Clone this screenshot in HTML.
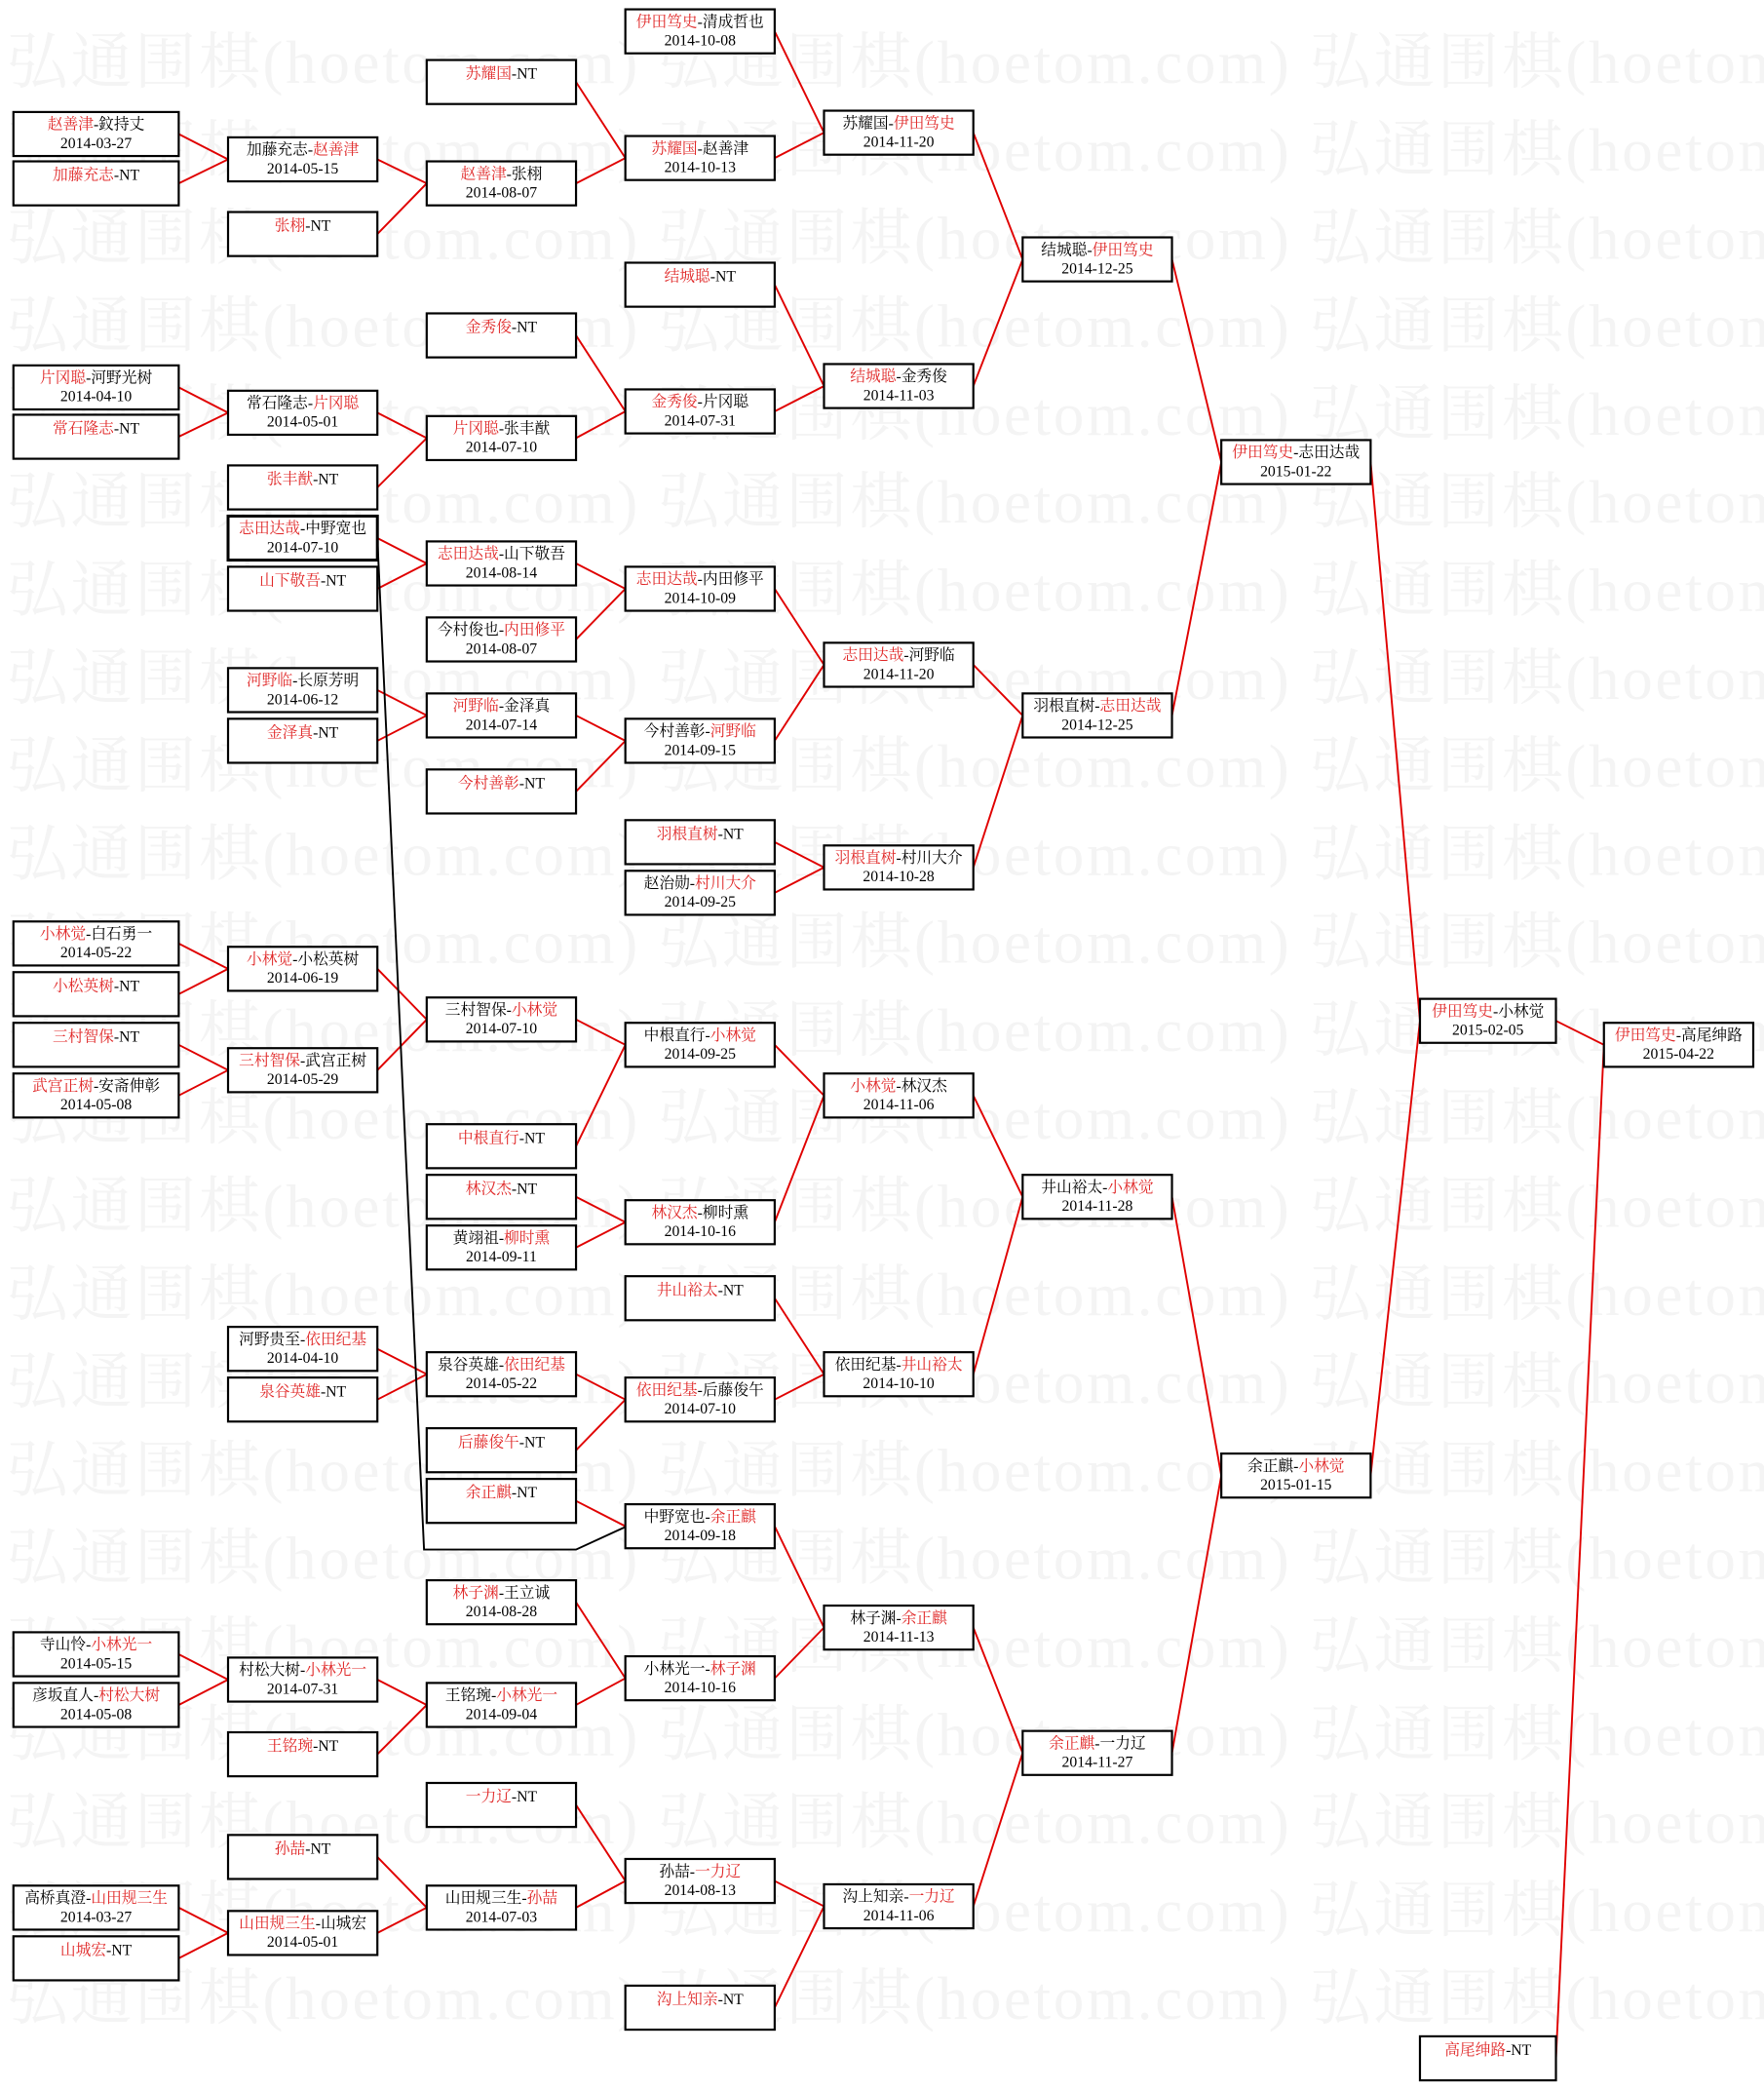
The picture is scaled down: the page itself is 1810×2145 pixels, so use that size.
<!DOCTYPE html>
<html><head><meta charset="utf-8"><style>
html,body{margin:0;padding:0;background:#fff}
svg{display:block}
text{font-family:"Liberation Serif","Noto Serif CJK SC",serif;font-size:11.5px;text-anchor:middle;fill:#000}
.r{fill:#e02828}
.wm{font-size:46px;fill:#f4f4f4;text-anchor:start;letter-spacing:2px}
rect{fill:#fff;stroke:#000;stroke-width:1.6}
.l path,.l line{stroke:#e00000;stroke-width:1.4;fill:none}
</style></head><body>
<svg width="1810" height="2145" viewBox="0 0 1323 1568" xmlns="http://www.w3.org/2000/svg">
<g>
<text class="wm" x="5" y="62">弘通围棋(hoetom.com) 弘通围棋(hoetom.com) 弘通围棋(hoetom.com)</text>
<text class="wm" x="5" y="128">弘通围棋(hoetom.com) 弘通围棋(hoetom.com) 弘通围棋(hoetom.com)</text>
<text class="wm" x="5" y="194">弘通围棋(hoetom.com) 弘通围棋(hoetom.com) 弘通围棋(hoetom.com)</text>
<text class="wm" x="5" y="260">弘通围棋(hoetom.com) 弘通围棋(hoetom.com) 弘通围棋(hoetom.com)</text>
<text class="wm" x="5" y="326">弘通围棋(hoetom.com) 弘通围棋(hoetom.com) 弘通围棋(hoetom.com)</text>
<text class="wm" x="5" y="392">弘通围棋(hoetom.com) 弘通围棋(hoetom.com) 弘通围棋(hoetom.com)</text>
<text class="wm" x="5" y="458">弘通围棋(hoetom.com) 弘通围棋(hoetom.com) 弘通围棋(hoetom.com)</text>
<text class="wm" x="5" y="524">弘通围棋(hoetom.com) 弘通围棋(hoetom.com) 弘通围棋(hoetom.com)</text>
<text class="wm" x="5" y="590">弘通围棋(hoetom.com) 弘通围棋(hoetom.com) 弘通围棋(hoetom.com)</text>
<text class="wm" x="5" y="656">弘通围棋(hoetom.com) 弘通围棋(hoetom.com) 弘通围棋(hoetom.com)</text>
<text class="wm" x="5" y="722">弘通围棋(hoetom.com) 弘通围棋(hoetom.com) 弘通围棋(hoetom.com)</text>
<text class="wm" x="5" y="788">弘通围棋(hoetom.com) 弘通围棋(hoetom.com) 弘通围棋(hoetom.com)</text>
<text class="wm" x="5" y="854">弘通围棋(hoetom.com) 弘通围棋(hoetom.com) 弘通围棋(hoetom.com)</text>
<text class="wm" x="5" y="920">弘通围棋(hoetom.com) 弘通围棋(hoetom.com) 弘通围棋(hoetom.com)</text>
<text class="wm" x="5" y="986">弘通围棋(hoetom.com) 弘通围棋(hoetom.com) 弘通围棋(hoetom.com)</text>
<text class="wm" x="5" y="1052">弘通围棋(hoetom.com) 弘通围棋(hoetom.com) 弘通围棋(hoetom.com)</text>
<text class="wm" x="5" y="1118">弘通围棋(hoetom.com) 弘通围棋(hoetom.com) 弘通围棋(hoetom.com)</text>
<text class="wm" x="5" y="1184">弘通围棋(hoetom.com) 弘通围棋(hoetom.com) 弘通围棋(hoetom.com)</text>
<text class="wm" x="5" y="1250">弘通围棋(hoetom.com) 弘通围棋(hoetom.com) 弘通围棋(hoetom.com)</text>
<text class="wm" x="5" y="1316">弘通围棋(hoetom.com) 弘通围棋(hoetom.com) 弘通围棋(hoetom.com)</text>
<text class="wm" x="5" y="1382">弘通围棋(hoetom.com) 弘通围棋(hoetom.com) 弘通围棋(hoetom.com)</text>
<text class="wm" x="5" y="1448">弘通围棋(hoetom.com) 弘通围棋(hoetom.com) 弘通围棋(hoetom.com)</text>
<text class="wm" x="5" y="1514">弘通围棋(hoetom.com) 弘通围棋(hoetom.com) 弘通围棋(hoetom.com)</text>
</g>
<g class="l">
<path d="M134 100.5L171 119.5L134 137.5"/>
<path d="M134 290.5L171 309.5L134 327.5"/>
<path d="M134 707.5L171 726.5L134 745.5"/>
<path d="M134 783.5L171 802.5L134 821.5"/>
<path d="M134 1240.5L171 1259.5L134 1278.5"/>
<path d="M134 1430.5L171 1449.5L134 1468.5"/>
<path d="M283 119.5L320 137.5L283 175.5"/>
<path d="M283 309.5L320 328.5L283 365.5"/>
<path d="M283 403.5L320 422.5L283 441.5"/>
<path d="M283 517.5L320 536.5L283 555.5"/>
<path d="M283 726.5L320 764.5L283 802.5"/>
<path d="M283 1011.5L320 1030.5L283 1049.5"/>
<path d="M283 1259.5L320 1278.5L283 1315.5"/>
<path d="M283 1392.5L320 1430.5L283 1449.5"/>
<path d="M432 61.5L469 118.5L432 137.5"/>
<path d="M432 251.5L469 308.5L432 328.5"/>
<path d="M432 422.5L469 441.5L432 479.5"/>
<path d="M432 536.5L469 555.5L432 593.5"/>
<path d="M432 764.5L469 783.5L432 859.5"/>
<path d="M432 897.5L469 916.5L432 935.5"/>
<path d="M432 1030.5L469 1049.5L432 1087.5"/>
<path d="M432 1125.5L469 1144.5"/>
<path d="M432 1201.5L469 1258.5L432 1278.5"/>
<path d="M432 1353.5L469 1410.5L432 1430.5"/>
<path d="M581 23.5L618 99.5L581 118.5"/>
<path d="M581 213.5L618 289.5L581 308.5"/>
<path d="M581 441.5L618 498.5L581 555.5"/>
<path d="M581 631.5L618 650.5L581 669.5"/>
<path d="M581 783.5L618 821.5L581 916.5"/>
<path d="M581 973.5L618 1030.5L581 1049.5"/>
<path d="M581 1144.5L618 1220.5L581 1258.5"/>
<path d="M581 1410.5L618 1429.5L581 1505.5"/>
<path d="M730 99.5L767 194.5L730 289.5"/>
<path d="M730 498.5L767 536.5L730 650.5"/>
<path d="M730 821.5L767 897.5L730 1030.5"/>
<path d="M730 1220.5L767 1314.5L730 1429.5"/>
<path d="M879 194.5L916 346.5L879 536.5"/>
<path d="M879 897.5L916 1106.5L879 1314.5"/>
<path d="M1028 346.5L1065 765.5L1028 1106.5"/>
<path d="M1167 765.5L1203 783.5L1167 1543.5"/>
</g>
<path d="M283 404L318 1162L432 1162L469 1145" stroke="#000" stroke-width="1.4" fill="none"/>

<g transform="translate(10,84)"><rect width="124" height="33"/><text x="62" y="13"><tspan class="r">赵善津</tspan>-鈫持丈</text><text x="62" y="27">2014-03-27</text></g>
<g transform="translate(10,121)"><rect width="124" height="33"/><text x="62" y="14"><tspan class="r">加藤充志</tspan>-NT</text></g>
<g transform="translate(10,274)"><rect width="124" height="33"/><text x="62" y="13"><tspan class="r">片冈聪</tspan>-河野光树</text><text x="62" y="27">2014-04-10</text></g>
<g transform="translate(10,311)"><rect width="124" height="33"/><text x="62" y="14"><tspan class="r">常石隆志</tspan>-NT</text></g>
<g transform="translate(10,691)"><rect width="124" height="33"/><text x="62" y="13"><tspan class="r">小林觉</tspan>-白石勇一</text><text x="62" y="27">2014-05-22</text></g>
<g transform="translate(10,729)"><rect width="124" height="33"/><text x="62" y="14"><tspan class="r">小松英树</tspan>-NT</text></g>
<g transform="translate(10,767)"><rect width="124" height="33"/><text x="62" y="14"><tspan class="r">三村智保</tspan>-NT</text></g>
<g transform="translate(10,805)"><rect width="124" height="33"/><text x="62" y="13"><tspan class="r">武宫正树</tspan>-安斋伸彰</text><text x="62" y="27">2014-05-08</text></g>
<g transform="translate(10,1224)"><rect width="124" height="33"/><text x="62" y="13">寺山怜-<tspan class="r">小林光一</tspan></text><text x="62" y="27">2014-05-15</text></g>
<g transform="translate(10,1262)"><rect width="124" height="33"/><text x="62" y="13">彦坂直人-<tspan class="r">村松大树</tspan></text><text x="62" y="27">2014-05-08</text></g>
<g transform="translate(10,1414)"><rect width="124" height="33"/><text x="62" y="13">高桥真澄-<tspan class="r">山田规三生</tspan></text><text x="62" y="27">2014-03-27</text></g>
<g transform="translate(10,1452)"><rect width="124" height="33"/><text x="62" y="14"><tspan class="r">山城宏</tspan>-NT</text></g>

<g transform="translate(171,103)"><rect width="112" height="33"/><text x="56" y="13">加藤充志-<tspan class="r">赵善津</tspan></text><text x="56" y="27">2014-05-15</text></g>
<g transform="translate(171,159)"><rect width="112" height="33"/><text x="56" y="14"><tspan class="r">张栩</tspan>-NT</text></g>
<g transform="translate(171,293)"><rect width="112" height="33"/><text x="56" y="13">常石隆志-<tspan class="r">片冈聪</tspan></text><text x="56" y="27">2014-05-01</text></g>
<g transform="translate(171,349)"><rect width="112" height="33"/><text x="56" y="14"><tspan class="r">张丰猷</tspan>-NT</text></g>
<g transform="translate(171,387)"><rect width="112" height="33" style="stroke-width:2.2"/><text x="56" y="13"><tspan class="r">志田达哉</tspan>-中野宽也</text><text x="56" y="27">2014-07-10</text></g>
<g transform="translate(171,425)"><rect width="112" height="33"/><text x="56" y="14"><tspan class="r">山下敬吾</tspan>-NT</text></g>
<g transform="translate(171,501)"><rect width="112" height="33"/><text x="56" y="13"><tspan class="r">河野临</tspan>-长原芳明</text><text x="56" y="27">2014-06-12</text></g>
<g transform="translate(171,539)"><rect width="112" height="33"/><text x="56" y="14"><tspan class="r">金泽真</tspan>-NT</text></g>
<g transform="translate(171,710)"><rect width="112" height="33"/><text x="56" y="13"><tspan class="r">小林觉</tspan>-小松英树</text><text x="56" y="27">2014-06-19</text></g>
<g transform="translate(171,786)"><rect width="112" height="33"/><text x="56" y="13"><tspan class="r">三村智保</tspan>-武宫正树</text><text x="56" y="27">2014-05-29</text></g>
<g transform="translate(171,995)"><rect width="112" height="33"/><text x="56" y="13">河野贵至-<tspan class="r">依田纪基</tspan></text><text x="56" y="27">2014-04-10</text></g>
<g transform="translate(171,1033)"><rect width="112" height="33"/><text x="56" y="14"><tspan class="r">泉谷英雄</tspan>-NT</text></g>
<g transform="translate(171,1243)"><rect width="112" height="33"/><text x="56" y="13">村松大树-<tspan class="r">小林光一</tspan></text><text x="56" y="27">2014-07-31</text></g>
<g transform="translate(171,1299)"><rect width="112" height="33"/><text x="56" y="14"><tspan class="r">王铭琬</tspan>-NT</text></g>
<g transform="translate(171,1376)"><rect width="112" height="33"/><text x="56" y="14"><tspan class="r">孙喆</tspan>-NT</text></g>
<g transform="translate(171,1433)"><rect width="112" height="33"/><text x="56" y="13"><tspan class="r">山田规三生</tspan>-山城宏</text><text x="56" y="27">2014-05-01</text></g>

<g transform="translate(320,45)"><rect width="112" height="33"/><text x="56" y="14"><tspan class="r">苏耀国</tspan>-NT</text></g>
<g transform="translate(320,121)"><rect width="112" height="33"/><text x="56" y="13"><tspan class="r">赵善津</tspan>-张栩</text><text x="56" y="27">2014-08-07</text></g>
<g transform="translate(320,235)"><rect width="112" height="33"/><text x="56" y="14"><tspan class="r">金秀俊</tspan>-NT</text></g>
<g transform="translate(320,312)"><rect width="112" height="33"/><text x="56" y="13"><tspan class="r">片冈聪</tspan>-张丰猷</text><text x="56" y="27">2014-07-10</text></g>
<g transform="translate(320,406)"><rect width="112" height="33"/><text x="56" y="13"><tspan class="r">志田达哉</tspan>-山下敬吾</text><text x="56" y="27">2014-08-14</text></g>
<g transform="translate(320,463)"><rect width="112" height="33"/><text x="56" y="13">今村俊也-<tspan class="r">内田修平</tspan></text><text x="56" y="27">2014-08-07</text></g>
<g transform="translate(320,520)"><rect width="112" height="33"/><text x="56" y="13"><tspan class="r">河野临</tspan>-金泽真</text><text x="56" y="27">2014-07-14</text></g>
<g transform="translate(320,577)"><rect width="112" height="33"/><text x="56" y="14"><tspan class="r">今村善彰</tspan>-NT</text></g>
<g transform="translate(320,748)"><rect width="112" height="33"/><text x="56" y="13">三村智保-<tspan class="r">小林觉</tspan></text><text x="56" y="27">2014-07-10</text></g>
<g transform="translate(320,843)"><rect width="112" height="33"/><text x="56" y="14"><tspan class="r">中根直行</tspan>-NT</text></g>
<g transform="translate(320,881)"><rect width="112" height="33"/><text x="56" y="14"><tspan class="r">林汉杰</tspan>-NT</text></g>
<g transform="translate(320,919)"><rect width="112" height="33"/><text x="56" y="13">黄翊祖-<tspan class="r">柳时熏</tspan></text><text x="56" y="27">2014-09-11</text></g>
<g transform="translate(320,1014)"><rect width="112" height="33"/><text x="56" y="13">泉谷英雄-<tspan class="r">依田纪基</tspan></text><text x="56" y="27">2014-05-22</text></g>
<g transform="translate(320,1071)"><rect width="112" height="33"/><text x="56" y="14"><tspan class="r">后藤俊午</tspan>-NT</text></g>
<g transform="translate(320,1109)"><rect width="112" height="33"/><text x="56" y="14"><tspan class="r">余正麒</tspan>-NT</text></g>
<g transform="translate(320,1185)"><rect width="112" height="33"/><text x="56" y="13"><tspan class="r">林子渊</tspan>-王立诚</text><text x="56" y="27">2014-08-28</text></g>
<g transform="translate(320,1262)"><rect width="112" height="33"/><text x="56" y="13">王铭琬-<tspan class="r">小林光一</tspan></text><text x="56" y="27">2014-09-04</text></g>
<g transform="translate(320,1337)"><rect width="112" height="33"/><text x="56" y="14"><tspan class="r">一力辽</tspan>-NT</text></g>
<g transform="translate(320,1414)"><rect width="112" height="33"/><text x="56" y="13">山田规三生-<tspan class="r">孙喆</tspan></text><text x="56" y="27">2014-07-03</text></g>

<g transform="translate(469,7)"><rect width="112" height="33"/><text x="56" y="13"><tspan class="r">伊田笃史</tspan>-清成哲也</text><text x="56" y="27">2014-10-08</text></g>
<g transform="translate(469,102)"><rect width="112" height="33"/><text x="56" y="13"><tspan class="r">苏耀国</tspan>-赵善津</text><text x="56" y="27">2014-10-13</text></g>
<g transform="translate(469,197)"><rect width="112" height="33"/><text x="56" y="14"><tspan class="r">结城聪</tspan>-NT</text></g>
<g transform="translate(469,292)"><rect width="112" height="33"/><text x="56" y="13"><tspan class="r">金秀俊</tspan>-片冈聪</text><text x="56" y="27">2014-07-31</text></g>
<g transform="translate(469,425)"><rect width="112" height="33"/><text x="56" y="13"><tspan class="r">志田达哉</tspan>-内田修平</text><text x="56" y="27">2014-10-09</text></g>
<g transform="translate(469,539)"><rect width="112" height="33"/><text x="56" y="13">今村善彰-<tspan class="r">河野临</tspan></text><text x="56" y="27">2014-09-15</text></g>
<g transform="translate(469,615)"><rect width="112" height="33"/><text x="56" y="14"><tspan class="r">羽根直树</tspan>-NT</text></g>
<g transform="translate(469,653)"><rect width="112" height="33"/><text x="56" y="13">赵治勋-<tspan class="r">村川大介</tspan></text><text x="56" y="27">2014-09-25</text></g>
<g transform="translate(469,767)"><rect width="112" height="33"/><text x="56" y="13">中根直行-<tspan class="r">小林觉</tspan></text><text x="56" y="27">2014-09-25</text></g>
<g transform="translate(469,900)"><rect width="112" height="33"/><text x="56" y="13"><tspan class="r">林汉杰</tspan>-柳时熏</text><text x="56" y="27">2014-10-16</text></g>
<g transform="translate(469,957)"><rect width="112" height="33"/><text x="56" y="14"><tspan class="r">井山裕太</tspan>-NT</text></g>
<g transform="translate(469,1033)"><rect width="112" height="33"/><text x="56" y="13"><tspan class="r">依田纪基</tspan>-后藤俊午</text><text x="56" y="27">2014-07-10</text></g>
<g transform="translate(469,1128)"><rect width="112" height="33"/><text x="56" y="13">中野宽也-<tspan class="r">余正麒</tspan></text><text x="56" y="27">2014-09-18</text></g>
<g transform="translate(469,1242)"><rect width="112" height="33"/><text x="56" y="13">小林光一-<tspan class="r">林子渊</tspan></text><text x="56" y="27">2014-10-16</text></g>
<g transform="translate(469,1394)"><rect width="112" height="33"/><text x="56" y="13">孙喆-<tspan class="r">一力辽</tspan></text><text x="56" y="27">2014-08-13</text></g>
<g transform="translate(469,1489)"><rect width="112" height="33"/><text x="56" y="14"><tspan class="r">沟上知亲</tspan>-NT</text></g>

<g transform="translate(618,83)"><rect width="112" height="33"/><text x="56" y="13">苏耀国-<tspan class="r">伊田笃史</tspan></text><text x="56" y="27">2014-11-20</text></g>
<g transform="translate(618,273)"><rect width="112" height="33"/><text x="56" y="13"><tspan class="r">结城聪</tspan>-金秀俊</text><text x="56" y="27">2014-11-03</text></g>
<g transform="translate(618,482)"><rect width="112" height="33"/><text x="56" y="13"><tspan class="r">志田达哉</tspan>-河野临</text><text x="56" y="27">2014-11-20</text></g>
<g transform="translate(618,634)"><rect width="112" height="33"/><text x="56" y="13"><tspan class="r">羽根直树</tspan>-村川大介</text><text x="56" y="27">2014-10-28</text></g>
<g transform="translate(618,805)"><rect width="112" height="33"/><text x="56" y="13"><tspan class="r">小林觉</tspan>-林汉杰</text><text x="56" y="27">2014-11-06</text></g>
<g transform="translate(618,1014)"><rect width="112" height="33"/><text x="56" y="13">依田纪基-<tspan class="r">井山裕太</tspan></text><text x="56" y="27">2014-10-10</text></g>
<g transform="translate(618,1204)"><rect width="112" height="33"/><text x="56" y="13">林子渊-<tspan class="r">余正麒</tspan></text><text x="56" y="27">2014-11-13</text></g>
<g transform="translate(618,1413)"><rect width="112" height="33"/><text x="56" y="13">沟上知亲-<tspan class="r">一力辽</tspan></text><text x="56" y="27">2014-11-06</text></g>

<g transform="translate(767,178)"><rect width="112" height="33"/><text x="56" y="13">结城聪-<tspan class="r">伊田笃史</tspan></text><text x="56" y="27">2014-12-25</text></g>
<g transform="translate(767,520)"><rect width="112" height="33"/><text x="56" y="13">羽根直树-<tspan class="r">志田达哉</tspan></text><text x="56" y="27">2014-12-25</text></g>
<g transform="translate(767,881)"><rect width="112" height="33"/><text x="56" y="13">井山裕太-<tspan class="r">小林觉</tspan></text><text x="56" y="27">2014-11-28</text></g>
<g transform="translate(767,1298)"><rect width="112" height="33"/><text x="56" y="13"><tspan class="r">余正麒</tspan>-一力辽</text><text x="56" y="27">2014-11-27</text></g>

<g transform="translate(916,330)"><rect width="112" height="33"/><text x="56" y="13"><tspan class="r">伊田笃史</tspan>-志田达哉</text><text x="56" y="27">2015-01-22</text></g>
<g transform="translate(916,1090)"><rect width="112" height="33"/><text x="56" y="13">余正麒-<tspan class="r">小林觉</tspan></text><text x="56" y="27">2015-01-15</text></g>

<g transform="translate(1065,749)"><rect width="102" height="33"/><text x="51" y="13"><tspan class="r">伊田笃史</tspan>-小林觉</text><text x="51" y="27">2015-02-05</text></g>
<g transform="translate(1065,1527)"><rect width="102" height="33"/><text x="51" y="14"><tspan class="r">高尾绅路</tspan>-NT</text></g>

<g transform="translate(1203,767)"><rect width="112" height="33"/><text x="56" y="13"><tspan class="r">伊田笃史</tspan>-高尾绅路</text><text x="56" y="27">2015-04-22</text></g>
</svg>
</body></html>
